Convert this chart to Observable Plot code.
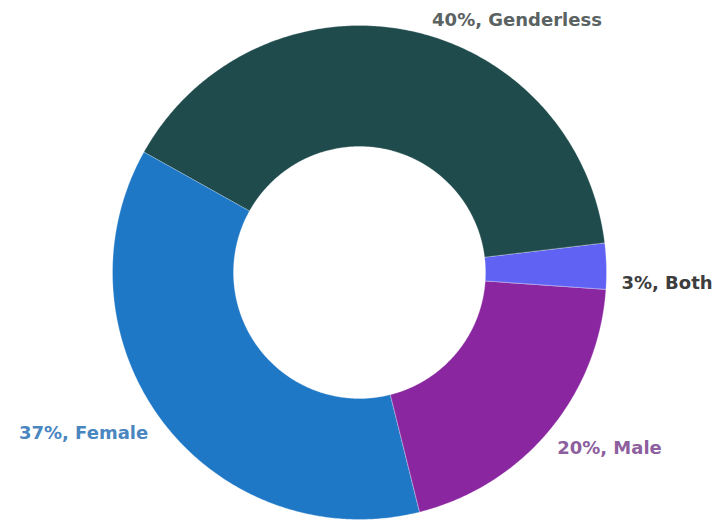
<!DOCTYPE html>
<html>
<head>
<meta charset="utf-8">
<script src="https://cdn.jsdelivr.net/npm/d3@7"></script>
<script src="https://cdn.jsdelivr.net/npm/@observablehq/plot@0.6"></script>
<style>
  html, body { margin: 0; padding: 0; background: #ffffff; }
  #chart { width: 714px; height: 530px; }
</style>
</head>
<body>
<div id="chart"></div>
<script>
// ---- Data ----
const categories = ["Genderless", "Both", "Male", "Female"];
const shares = [40, 3, 20, 37];
const labels = ["40%, Genderless", "3%, Both", "20%, Male", "37%, Female"];
const sliceColors = ["#1f4b4d", "#5f62f2", "#8a27a0", "#1f78c6"];
const labelColors = ["#5a6262", "#3d3d3d", "#8d5f9e", "#4a86bf"];

// ---- Layout (pixel-based data units) ----
const W = 714, H = 530;
const cx = 359, cy = 272;
const outerR = 247, innerR = 126;
const startDeg = -60.8;

const table = categories.map((c, i) => ({ category: c, share: shares[i], label: labels[i], color: sliceColors[i], labelColor: labelColors[i] }));

const pie = d3.pie().value(d => d.share).sort(null)
  .startAngle(startDeg * Math.PI / 180)
  .endAngle(startDeg * Math.PI / 180 + 2 * Math.PI);
const arcs = pie(table);

// polygon vertices of each ring slice, in data units (x right, y up)
const pts = [];
arcs.forEach(a => {
  const n = Math.max(4, Math.ceil((a.endAngle - a.startAngle) * 180 / Math.PI * 2));
  for (let k = 0; k <= n; k++) {
    const t = a.startAngle + (a.endAngle - a.startAngle) * k / n;
    pts.push({ category: a.data.category, color: a.data.color, x: outerR * Math.sin(t), y: outerR * Math.cos(t) });
  }
  for (let k = n; k >= 0; k--) {
    const t = a.startAngle + (a.endAngle - a.startAngle) * k / n;
    pts.push({ category: a.data.category, color: a.data.color, x: innerR * Math.sin(t), y: innerR * Math.cos(t) });
  }
});

// label placement derived from each slice's mid-angle, plus small pixel nudges
const labelTweak = {
  Genderless: { r: 258, rot: 7, anchor: "start", dx: -8, dy: -7 },
  Both: { r: 262, rot: 2.5, anchor: "start", dx: 0, dy: 6 },
  Male: { r: 258, rot: 0, anchor: "start", dx: 0, dy: 10 },
  Female: { r: 258, rot: 0.5, anchor: "end", dx: -5, dy: 6 }
};
const labelPts = arcs.map(a => {
  const tw = labelTweak[a.data.category];
  const mid = (a.startAngle + a.endAngle) / 2 + tw.rot * Math.PI / 180;
  return { label: a.data.label, fill: a.data.labelColor, anchor: tw.anchor, x: tw.r * Math.sin(mid) + tw.dx, y: tw.r * Math.cos(mid) - tw.dy };
});

const textStyle = { x: "x", y: "y", text: "label", fill: "fill", fontSize: 18, fontWeight: 600 };

const chart = Plot.plot({
  width: W,
  height: H,
  margin: 0,
  x: { domain: [-cx, W - cx], range: [0, W], axis: null },
  y: { domain: [cy - H, cy], range: [H, 0], axis: null },
  style: { background: "#ffffff", fontFamily: "'DejaVu Sans', sans-serif" },
  marks: [
    Plot.line(pts, { x: "x", y: "y", z: "category", fill: "color", stroke: "#ffffff", strokeWidth: 0.8, strokeOpacity: 0.35, curve: "linear-closed" }),
    Plot.text(labelPts.filter(d => d.anchor === "start"), { ...textStyle, textAnchor: "start" }),
    Plot.text(labelPts.filter(d => d.anchor === "end"), { ...textStyle, textAnchor: "end" })
  ]
});
document.getElementById("chart").appendChild(chart);
</script>
</body>
</html>
